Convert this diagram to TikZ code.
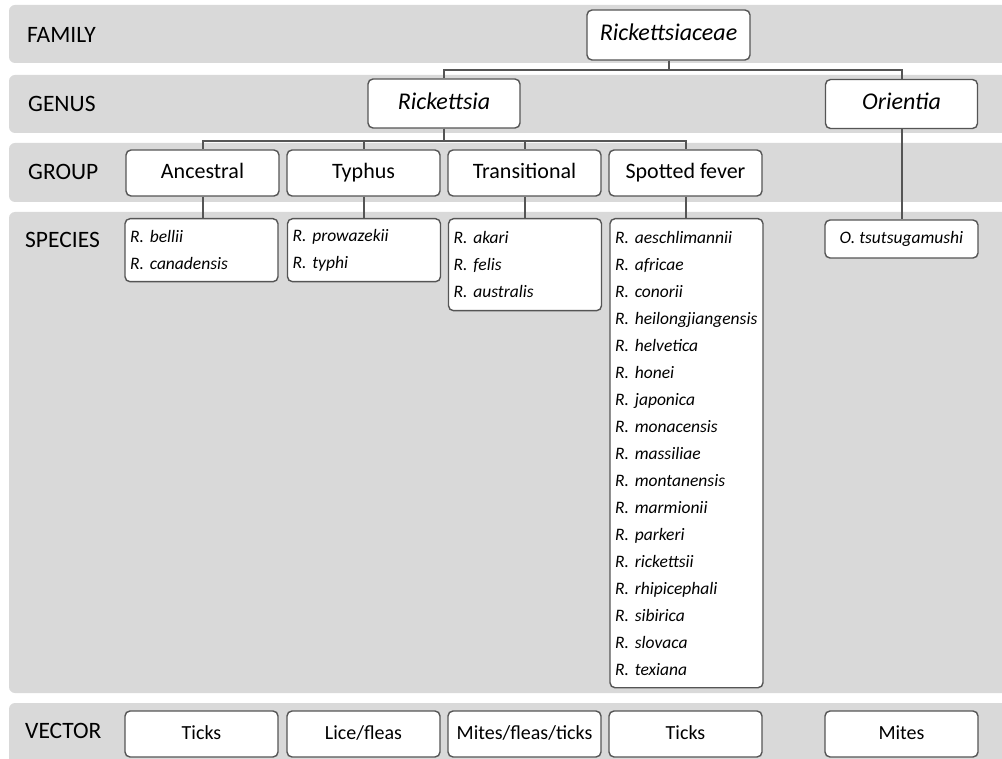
\documentclass[tikz,border=0pt]{standalone}
\usepackage{fontspec}
\setmainfont{Carlito}
\usetikzlibrary{positioning}

\definecolor{bandgray}{HTML}{D9D9D9}
\definecolor{edgegray}{HTML}{555555}

\begin{document}
\begin{tikzpicture}[
  x=1pt, y=-1pt,
  band/.style  = {fill=bandgray, rounded corners=6pt},
  rank/.style  = {anchor=west, inner sep=0pt, font=\fontsize{23.5}{28}\selectfont},
  box/.style   = {draw=edgegray, line width=1.4pt, fill=white, rounded corners=5pt,
                  minimum width=153pt, minimum height=46pt, inner sep=0pt},
  taxon/.style = {box, minimum width=152pt, minimum height=49pt, text height=16.5pt, text depth=4.5pt,
                  font=\fontsize{24}{28}\selectfont\itshape},
  grp/.style   = {box, text height=15pt, text depth=4pt, font=\fontsize{22}{26}\selectfont},
  spp/.style   = {box, anchor=north, text width=143pt, inner xsep=5pt, align=left,
                  font=\fontsize{17.5}{27}\selectfont\itshape\frenchspacing},
  vec/.style   = {box, text height=14pt, text depth=3.5pt, font=\fontsize{20}{24}\selectfont},
  link/.style  = {draw=edgegray, line width=2pt},
]
  \useasboundingbox (0,0) rectangle (1002,759);

  % Rank bands
  \fill[band] (9,5)   rectangle (1014,63);
  \fill[band] (9,75)  rectangle (1014,133);
  \fill[band] (9,143) rectangle (1014,202);
  \fill[band] (9,212) rectangle (1014,693);
  \fill[band] (9,703) rectangle (1014,772);

  % Rank labels
  \node[rank] (lfam) at (27,35)  {FAMILY};
  \node[rank] (lgen) at (28,104) {GENUS};
  \node[rank] (lgrp) at (28,172) {GROUP};
  \node[rank] (lspp) at (25,240) {SPECIES};
  \node[rank] (lvec) at (25,731) {VECTOR};

  % Family and genus nodes
  \node[taxon, minimum width=163pt, minimum height=50pt] (fam) at (668.5,35) {Rickettsiaceae};
  \node[taxon] (rick) at (444,103.5)  {Rickettsia};
  \node[taxon] (orie) at (901.5,104)  {Orientia};

  % Group nodes
  \node[grp] (anc) at (202.5,173) {Ancestral};
  \node[grp] (typ) at (363.5,173) {Typhus};
  \node[grp] (tra) at (524.5,173) {Transitional};
  \node[grp] (spo) at (685.5,173) {Spotted fever};

  % Species nodes
  \node[spp, minimum height=63pt] (anc-sp) at (201.5,218) {R. bellii\\R. canadensis};
  \node[spp, minimum height=63pt] (typ-sp) at (364,218)   {R. prowazekii\\R. typhi};
  \node[spp, minimum height=92pt] (tra-sp) at (525,218)   {R. akari\\R. felis\\R. australis};
  \node[spp, minimum height=469pt] (spo-sp) at (686.5,218) {R. aeschlimannii\\R. africae\\R. conorii\\
    R. heilongjiangensis\\R. helvetica\\R. honei\\R. japonica\\R. monacensis\\R. massiliae\\
    R. montanensis\\R. marmionii\\R. parkeri\\R. rickettsii\\R. rhipicephali\\R. sibirica\\
    R. slovaca\\R. texiana};
  \node[box, minimum height=38pt, font=\fontsize{17.5}{21}\selectfont\itshape\frenchspacing]
      (otsu) at (901.5,239) {O. tsutsugamushi};

  % Vector nodes
  \node[vec] (anc-v) at (201.5,734) {Ticks};
  \node[vec] (typ-v) at (363.5,734) {Lice/fleas};
  \node[vec] (tra-v) at (524.5,734) {Mites/fleas/ticks};
  \node[vec] (spo-v) at (685.5,734) {Ticks};
  \node[vec] (ori-v) at (901.5,734) {Mites};

  % Tree connectors
  \draw[link] (fam.south) -- ++(0,9) -| (rick.north);
  \draw[link] (fam.south) -- ++(0,9) -| (orie.north);
  \foreach \g in {anc,typ,tra,spo}
    \draw[link] (rick.south) -- ++(0,12) -| (\g.north);
  \foreach \g in {anc,typ,tra,spo}
    \draw[link] (\g.south) -- (\g.south |- \g-sp.north);
  \draw[link] (orie.south) -- (otsu.north);
\end{tikzpicture}
\end{document}
